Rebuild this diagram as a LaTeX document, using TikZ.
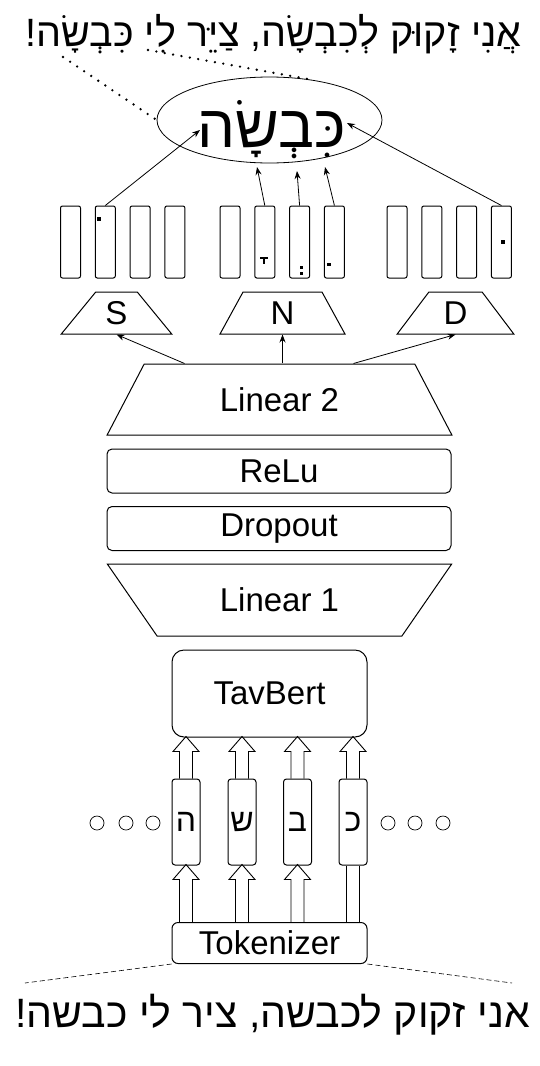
\documentclass[tikz,border=0pt]{standalone}
\usepackage{fontspec}
\setmainfont{Liberation Sans}
\newfontfamily\hebfont[Script=Hebrew]{Liberation Sans}
\TeXXeTstate=1
\usetikzlibrary{calc,positioning,shapes.geometric,arrows.meta}

\tikzset{
  layer/.style={draw, line width=1pt, trapezium, trapezium stretches=true, inner sep=0pt},
  slab/.style={draw, line width=1pt, rounded corners=5pt, minimum width=344, minimum height=44, inner sep=0pt},
  vec/.style={draw, line width=1pt, rounded corners=2pt, minimum width=20, minimum height=72, inner sep=0pt},
  letterbox/.style={draw, line width=1pt, rounded corners=3pt, minimum width=28, minimum height=86, inner sep=0pt},
  tip/.style={-{Stealth[length=8pt,width=6pt]}, line width=0.8pt},
  fat/.style={line width=0.9pt},
  lbl/.style={font=\fontsize{33}{38}\selectfont},
  dots/.style={line width=2.6pt, line cap=round, dash pattern=on 0pt off 8.5pt},
}

\begin{document}
\begin{tikzpicture}[x=1pt, y=-1pt]
  \useasboundingbox (0,0) rectangle (540,1066);
  % sentences
  \node (top) at (273.5,46) [anchor=base, font={\hebfont\fontsize{39.5}{44}\selectfont}]
        {\beginR אֲנִי זָקוּק לְכִבְשָׂה, צַיֵּר לִי כִּבְשָׂה!\endR};
  \node (bottom) at (272.5,1027) [anchor=base, font={\hebfont\fontsize{41}{46}\selectfont}]
        {\beginR אני זקוק לכבשה, ציר לי כבשה!\endR};
  % output word
  \node (sheep) at (269.5,120) [draw, ellipse, line width=0.8pt, minimum width=225, minimum height=86] {};
  \node (word) at (271.5,147) [anchor=base, font={\hebfont\fontsize{60}{66}\selectfont}]
        {\beginR כִּבְשָׂה\endR};
  \coordinate (q1) at (63,57);
  \coordinate (q2) at (148,50);
  \draw[dots] (q1) -- (sheep.west);
  \draw[dots] (q2) -- (sheep.42);
  % heads S, N, D
  \node (S) at (116.5,313) [layer, lbl, minimum width=111, minimum height=42, trapezium angle=52] {S};
  \node (N) at (282.5,313) [layer, lbl, minimum width=125, minimum height=42, trapezium angle=73] {N};
  \node (D) at (455.5,313) [layer, lbl, minimum width=117, minimum height=42, trapezium angle=58] {D};
  \foreach \g/\xs in {s/70.5, n/230, d/397}
     \foreach \i in {1,2,3,4}
        \node (\g\i) at ({\xs+34.8*(\i-1)},242) [vec] {};
  % points in the vectors
  \fill ($(s2.north)+(-8.5,11)$) rectangle ++(4,4);
  \fill ($(n2.north)+(-5,51)$) rectangle ++(8,2.5);
  \fill ($(n2.north)+(-2.2,51)$) rectangle ++(2.5,7);
  \fill ($(n3.north)+(0,60)$) rectangle ++(3.5,3.5);
  \fill ($(n3.north)+(0,66)$) rectangle ++(3.5,3.5);
  \fill ($(n4.north)+(-7,57)$) rectangle ++(3.5,3.5);
  \fill ($(d4.center)+(0,-2)$) rectangle ++(3.5,3.5);
  \coordinate (sin) at (200,130);
  \coordinate (kam) at (257,167);
  \coordinate (shva) at (297,171);
  \coordinate (hir) at (325,167);
  \coordinate (dag) at (347,123);
  \draw[tip] (s2.north) -- (sin);
  \draw[tip] (n2.north) -- (kam);
  \draw[tip] (n3.north) -- (shva);
  \draw[tip] (n4.north) -- (hir);
  \draw[tip] (d4.north) -- (dag);
  % classifier
  \node (lin2) at (279.5,399.5) [layer, lbl, minimum width=345, minimum height=71, trapezium angle=56] {Linear 2};
  \node (relu) at (279,471) [slab, lbl] {ReLu};
  \node (drop) at (279,528.5) [slab, lbl] {Dropout};
  \node (lin1) at (279.5,600) [layer, lbl, shape border rotate=180, minimum width=345, minimum height=72, trapezium angle=45] {Linear 1};
  \draw[tip] ($(lin2.north)+(-95,0)$) -- (S.south);
  \draw[tip] (lin2.north -| N.south) -- (N.south);
  \draw[tip] ($(lin2.north)+(74,0)$) -- (D.south);
  % encoder
  \node (bert) at (269.5,693.5) [draw, line width=1pt, rounded corners=12pt, minimum width=195, minimum height=87, lbl] {TavBert};
  \node (tok) at (269.5,943) [draw, line width=1pt, rounded corners=6pt, minimum width=195, minimum height=41, lbl] {Tokenizer};
  \foreach \n/\x/\c in {he/186/ה, shin/242/ש, bet/297.5/ב, kaf/353/כ}
     \node (\n) at (\x,822) [letterbox, font={\hebfont\fontsize{32}{36}\selectfont}] {\c};
  \foreach \x in {97,126,153,388,415,443}
     \node (c\x) at (\x,823) [draw, circle, line width=0.7pt, minimum size=14, inner sep=0pt] {};
  \foreach \n in {he,shin,bet,kaf}
     \draw[fat] ($(\n.north)+(-6.5,0)$) -- ++(0,-27) -- ++(-6.5,0) -- ++(13,-15)
                -- ++(13,15) -- ++(-6.5,0) -- ++(0,27);
  \foreach \n in {he,shin,bet}
     \draw[fat] ($(\n.south |- tok.north)+(-6.5,0)$) -- ++(0,-42.5) -- ++(-6.5,0) -- ++(13,-15)
                -- ++(13,15) -- ++(-6.5,0) -- ++(0,42.5);
  \draw[fat] ($(kaf.south |- tok.north)+(-6.5,0)$) -- ($(kaf.south)+(-6.5,0)$);
  \draw[fat] ($(kaf.south |- tok.north)+(6.5,0)$) -- ($(kaf.south)+(6.5,0)$);
  \coordinate (e1) at (25,983);
  \coordinate (e2) at (512,983);
  \draw[line width=0.6pt, dash pattern=on 5pt off 3pt] (tok.south west) -- (e1);
  \draw[line width=0.6pt, dash pattern=on 5pt off 3pt] (tok.south east) -- (e2);
\end{tikzpicture}
\end{document}
